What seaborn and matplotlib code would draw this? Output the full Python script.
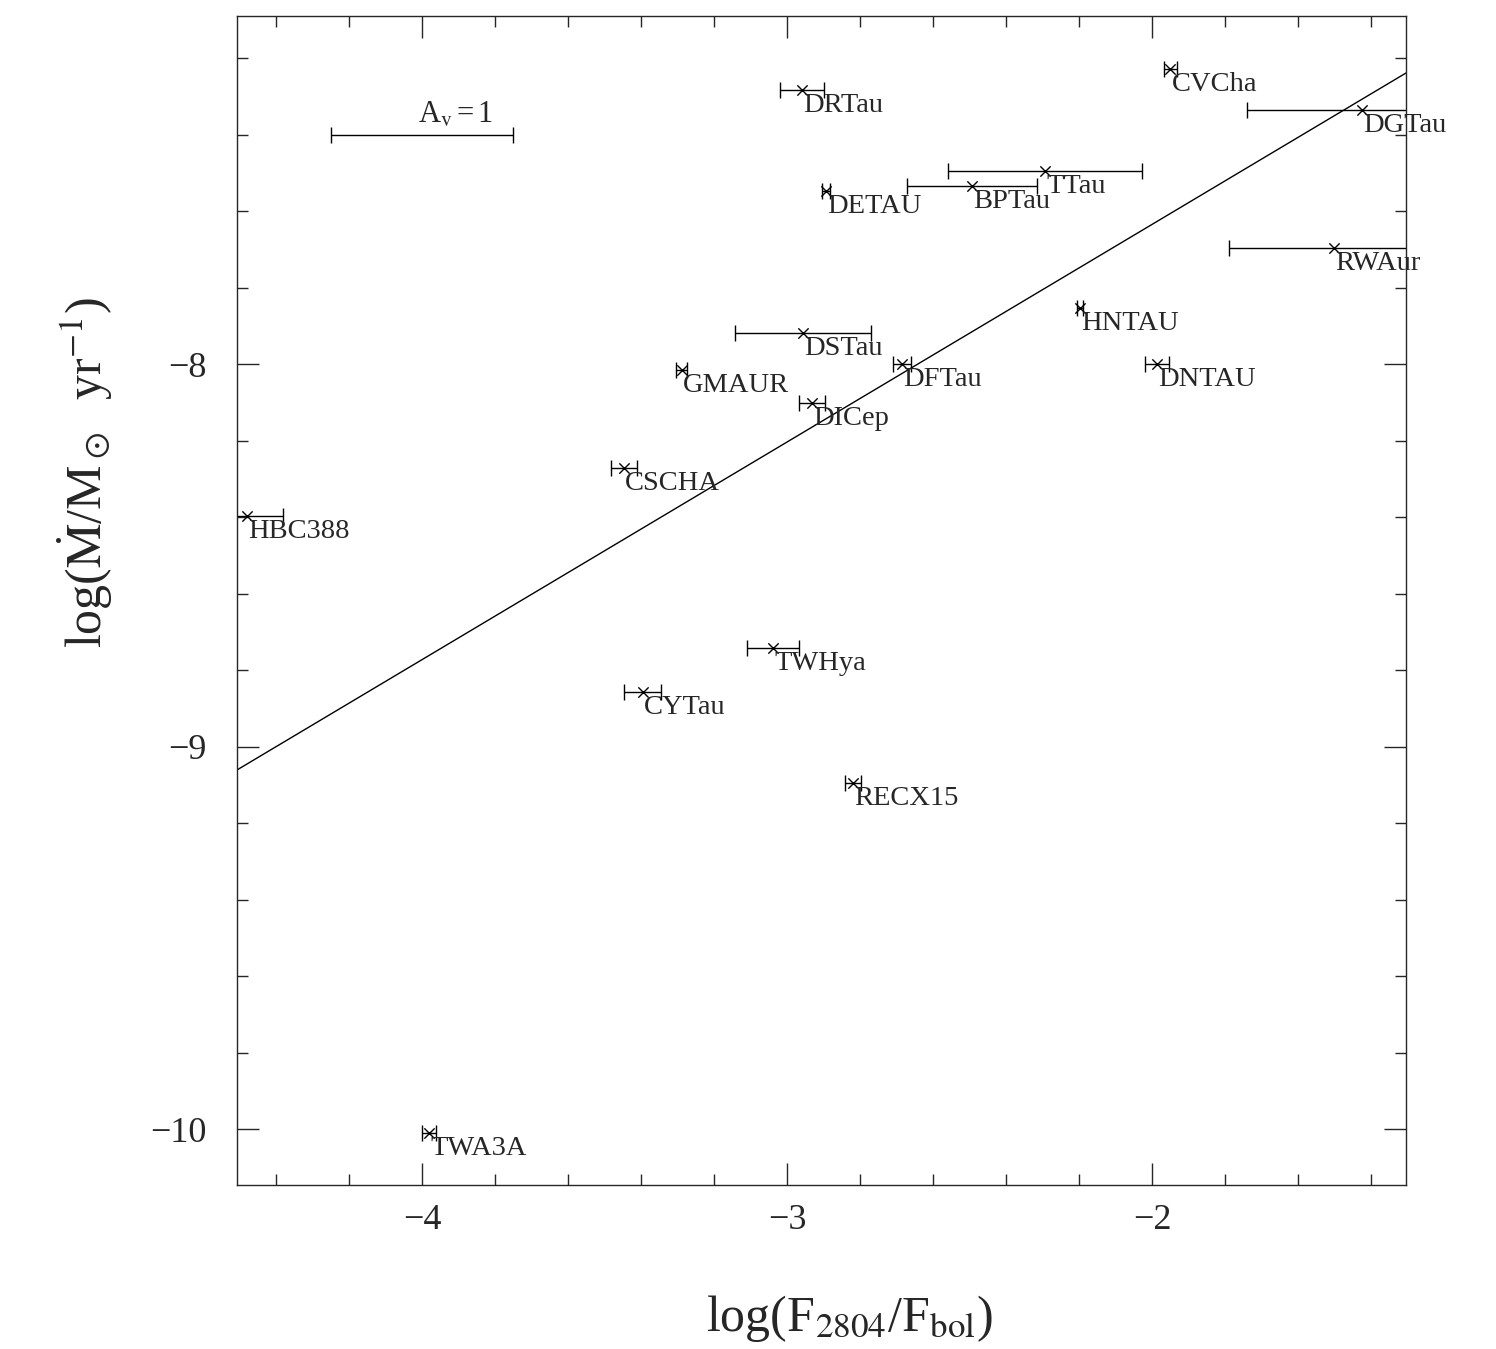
import numpy as np
import pandas as pd
import matplotlib
matplotlib.use('Agg')
import matplotlib.pyplot as plt
from matplotlib.ticker import MultipleLocator
import seaborn as sns

# star names, positions and x uncertainties
names = ['DRTau', 'CVCha', 'DGTau', 'TTau', 'BPTau', 'DETAU', 'RWAur', 'HNTAU',
         'DSTau', 'GMAUR', 'DFTau', 'DNTAU', 'DICep', 'CSCHA', 'HBC388',
         'TWHya', 'CYTau', 'RECX15', 'TWA3A']
log_flux = [-2.960, -1.950, -1.425, -2.293, -2.493, -2.893, -1.501, -2.197,
            -2.956, -3.288, -2.685, -1.986, -2.932, -3.447, -4.479,
            -3.038, -3.395, -2.819, -3.981]
log_mdot = [-7.284, -7.229, -7.336, -7.495, -7.535, -7.548, -7.697, -7.854,
            -7.919, -8.016, -8.000, -8.000, -8.102, -8.272, -8.397,
            -8.742, -8.858, -9.095, -10.010]
flux_err = [0.060, 0.018, 0.315, 0.267, 0.177, 0.012, 0.288, 0.008,
            0.187, 0.015, 0.025, 0.034, 0.035, 0.036, 0.099,
            0.071, 0.051, 0.022, 0.018]

# fitted relation (end points)
fit_x = [-4.507, -1.304]
fit_y = [-9.061, -7.239]

# A_v = 1 reddening bar
av_x = [-4.0]
av_y = [-7.4]
av_err = [0.25]

df = pd.DataFrame({'name': names, 'x': log_flux, 'y': log_mdot, 'xerr': flux_err})

sns.set_style('ticks')
plt.rcParams['font.family'] = ['Liberation Serif', 'DejaVu Serif']
plt.rcParams['mathtext.fontset'] = 'stix'
plt.rcParams['axes.linewidth'] = 1.0

fig = plt.figure(figsize=(14.96, 13.49), dpi=100)
ax = fig.add_axes([237 / 1496, 164 / 1349, 1169 / 1496, 1169 / 1349])

ax.errorbar(df['x'], df['y'], xerr=df['xerr'], fmt='none', ecolor='k',
            elinewidth=1.0, capsize=6, capthick=1.0)
sns.scatterplot(data=df, x='x', y='y', marker='x', color='k', s=55,
                linewidth=1.0, ax=ax, zorder=3)
sns.lineplot(x=fit_x, y=fit_y, color='k', linewidth=1.0, ax=ax)

for _, row in df.iterrows():
    ax.annotate(row['name'], (row['x'], row['y']), xytext=(1, -2),
                textcoords='offset points', ha='left', va='top', fontsize=20.5)

ax.errorbar(av_x, av_y, xerr=av_err, fmt='none', ecolor='k',
            elinewidth=1.0, capsize=6, capthick=1.0)
ax.text(-3.91, -7.35, r'A$_{\rm v}$$\,$=$\,$1', ha='center', va='center', fontsize=22)

ax.set_xlim(-4.507, -1.304)
ax.set_ylim(-10.146, -7.09)
ax.xaxis.set_major_locator(MultipleLocator(1))
ax.xaxis.set_minor_locator(MultipleLocator(0.2))
ax.yaxis.set_major_locator(MultipleLocator(1))
ax.yaxis.set_minor_locator(MultipleLocator(0.2))
ax.tick_params(which='both', direction='in', top=True, right=True, width=1.0)
ax.tick_params(which='major', length=16, labelsize=26)
ax.tick_params(which='minor', length=8)
ax.tick_params(axis='y', which='major', pad=22)
ax.tick_params(axis='x', which='major', pad=14)

ax.set_xlabel(r'log(F$_{2804}$/F$_{\rm bol}$)', fontsize=36, va='center')
ax.set_ylabel(r'log($\dot{\rm M}$/M$_\odot$  yr$^{-1}$)', fontsize=36, va='center')
ax.xaxis.set_label_coords(0.524, -0.114)
ax.yaxis.set_label_coords(-0.130, 0.609)

fig.savefig('out.png', dpi=100, facecolor='white')
